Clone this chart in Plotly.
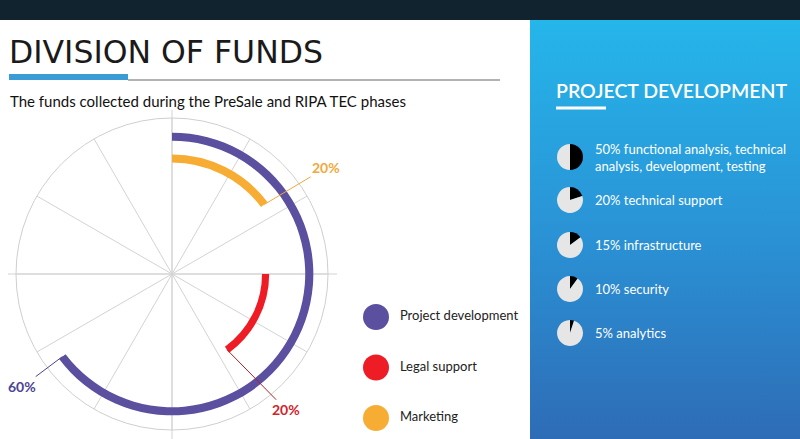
import math
import plotly.graph_objects as go

W, H = 800, 439

# chart data
categories = ["Project development", "Legal support", "Marketing"]
shares = [60, 20, 20]
arc_start = [0, 90, 0]        # degrees, clockwise from 12 o'clock
arc_end = [233, 144, 53]
arc_radius = [88, 60, 74]     # radial units (outer circle = 100)
arc_thickness = [5.2, 4.6, 5.2]
arc_colors = ["#5b4f9f", "#ee1c25", "#f7ad34"]
label_colors = ["#4b4393", "#d0242b", "#f2a93b"]
leader_colors = ["#4b4393", "#b0202a", "#f2a93b"]
label_offsets = [(-40, 30), (59, 60), (62, -37)]

# project development breakdown
pd_shares = [50, 20, 15, 10, 5]
pd_labels = [
    "50% functional analysis, technical<br>analysis, development, testing",
    "20% technical support",
    "15% infrastructure",
    "10% security",
    "5% analytics",
]
pd_rows = [157, 200, 245, 289, 333]

# polar geometry (pixels)
cx, cy, R = 172, 274, 156


def to_paper(r, theta):
    t = math.radians(theta)
    px = cx + r * R / 100 * math.sin(t)
    py = cy - r * R / 100 * math.cos(t)
    return px / W, 1 - py / H


def text_note(px, py, text, font, align="left"):
    return dict(x=px / W, y=1 - py / H, xref="paper", yref="paper", text=text,
                showarrow=False, xanchor="left", yanchor="middle", align=align, font=font)


fig = go.Figure()

# blue side panel
fig.add_trace(go.Scatter(
    x=[0, 1, 1, 0, 0], y=[0, 0, 1, 1, 0], mode="lines", fill="toself",
    line=dict(width=0),
    fillgradient=dict(type="vertical",
                      colorscale=[[0, "#2e6cb6"], [0.5, "#2a93d6"], [1, "#25b6ea"]]),
    xaxis="x2", yaxis="y2", showlegend=False, hoverinfo="skip",
))

# arcs
for i, name in enumerate(categories):
    fig.add_trace(go.Barpolar(
        theta=[(arc_start[i] + arc_end[i]) / 2],
        width=[arc_end[i] - arc_start[i]],
        base=[arc_radius[i] - arc_thickness[i] / 2],
        r=[arc_thickness[i]],
        marker=dict(color=arc_colors[i], line=dict(width=0)),
        name=name, showlegend=False, hoverinfo="skip",
    ))

# legend drawn as a scatter
fig.add_trace(go.Scatter(
    x=[0, 0, 0], y=[2, 1, 0], mode="markers+text",
    text=["  " + c for c in categories], textposition="middle right",
    textfont=dict(family="Lato", size=13, color="#222222"),
    marker=dict(size=26, color=arc_colors),
    xaxis="x3", yaxis="y3", showlegend=False, hoverinfo="skip", cliponaxis=False,
))

# small pies
for pct, row in zip(pd_shares, pd_rows):
    fig.add_trace(go.Pie(
        values=[pct, 100 - pct], sort=False, direction="clockwise", rotation=0,
        marker=dict(colors=["#000000", "#e6e6e6"], line=dict(width=0)),
        textinfo="none", hoverinfo="skip", showlegend=False,
        domain=dict(x=[(570 - 13) / W, (570 + 13) / W],
                    y=[1 - (row + 13) / H, 1 - (row - 13) / H]),
    ))

annotations = [
    text_note(7, 52, "DIVISION OF FUNDS",
              dict(family="DejaVu Sans", size=31.5, color="#1a1a1a")),
    text_note(8, 101, "The funds collected during the PreSale and RIPA TEC phases",
              dict(family="Lato", size=15, color="#111111")),
    text_note(554, 90, "PROJECT DEVELOPMENT",
              dict(family="Lato", size=19.5, color="white", weight=600)),
]
for lbl, row in zip(pd_labels, pd_rows):
    annotations.append(text_note(593, row, lbl, dict(family="Lato", size=13, color="white")))

for i in range(len(categories)):
    x, y = to_paper(arc_radius[i], arc_end[i])
    annotations.append(dict(
        x=x, y=y, xref="paper", yref="paper", text="<b>%d%%</b>" % shares[i],
        showarrow=True, arrowhead=0, arrowwidth=1, arrowcolor=leader_colors[i],
        ax=label_offsets[i][0], ay=label_offsets[i][1],
        font=dict(family="Lato", size=14, color=label_colors[i]),
    ))

shapes = [
    dict(type="rect", xref="paper", yref="paper", x0=0, x1=1, y0=1 - 20 / H, y1=1,
         fillcolor="#10232f", line=dict(width=0)),
    dict(type="line", xref="paper", yref="paper", x0=128 / W, x1=500 / W,
         y0=1 - 80 / H, y1=1 - 80 / H, line=dict(color="#999999", width=1.5)),
    dict(type="rect", xref="paper", yref="paper", x0=9 / W, x1=128 / W,
         y0=1 - 80 / H, y1=1 - 74 / H, fillcolor="#3a9bd5", line=dict(width=0)),
    dict(type="line", xref="paper", yref="paper", x0=556 / W, x1=606 / W,
         y0=1 - 108 / H, y1=1 - 108 / H, line=dict(color="white", width=3)),
    # cross lines through the chart centre
    dict(type="line", xref="paper", yref="paper", x0=8 / W, x1=337 / W,
         y0=1 - cy / H, y1=1 - cy / H, line=dict(color="#d3d3d3", width=1), layer="below"),
    dict(type="line", xref="paper", yref="paper", x0=cx / W, x1=cx / W,
         y0=0, y1=1 - 110 / H, line=dict(color="#d3d3d3", width=1), layer="below"),
]

fig.update_layout(
    width=W, height=H, margin=dict(l=0, r=0, t=0, b=0),
    paper_bgcolor="white", plot_bgcolor="rgba(0,0,0,0)", hovermode=False,
    polar=dict(
        domain=dict(x=[(cx - R) / W, (cx + R) / W], y=[1 - (cy + R) / H, 1 - (cy - R) / H]),
        bgcolor="rgba(0,0,0,0)",
        radialaxis=dict(visible=False, range=[0, 100]),
        angularaxis=dict(rotation=90, direction="clockwise", dtick=30, showticklabels=False,
                         ticks="", showgrid=True, gridcolor="#d3d3d3", gridwidth=1,
                         showline=True, linecolor="#cfcfcf", linewidth=1),
    ),
    xaxis2=dict(domain=[530 / W, 1], range=[0, 1], visible=False, fixedrange=True),
    yaxis2=dict(domain=[0, 1 - 20 / H], range=[0, 1], visible=False, fixedrange=True),
    xaxis3=dict(domain=[360 / W, 530 / W], range=[-1, 9.625], visible=False),
    yaxis3=dict(domain=[4 / H, 139 / H], range=[-0.337, 2.337], visible=False),
    annotations=annotations, shapes=shapes,
)

fig.write_html("out.html", config={"displayModeBar": False},
               post_script="document.body.style.margin='0px';")
